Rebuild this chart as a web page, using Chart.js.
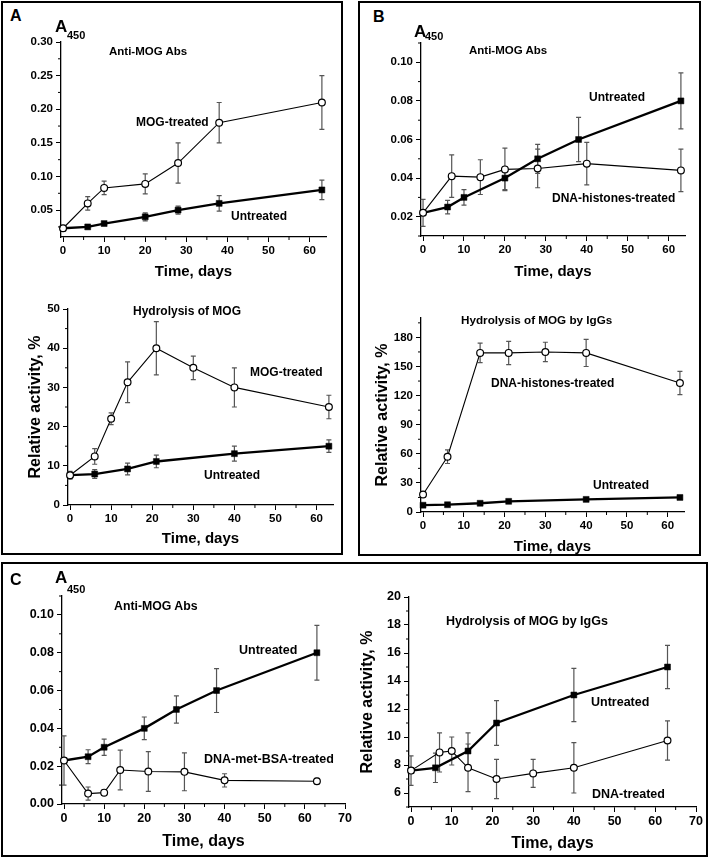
<!DOCTYPE html>
<html>
<head>
<meta charset="utf-8">
<script src="https://cdn.jsdelivr.net/npm/chart.js@4.4.1/dist/chart.umd.min.js"></script>
<style>
  body { margin: 0; background: #fff; }
  #page { position: relative; width: 709px; height: 858px; overflow: hidden;
          font-family: 'Liberation Sans', Arial, sans-serif; font-weight: bold; color: #000; }
  .box { position: absolute; border: 2px solid #000; box-sizing: border-box; }
  canvas { position: absolute; }
  .lbl { position: absolute; white-space: nowrap; line-height: 1; }
</style>
</head>
<body>
<div id="page">
  <div class="box" style="left:1px;top:1px;width:342px;height:554px"></div>
  <div class="box" style="left:358px;top:1px;width:343px;height:555px"></div>
  <div class="box" style="left:1px;top:562px;width:707px;height:295px"></div>

  <canvas id="a1" width="320" height="251" style="left:20px;top:30px"></canvas>
  <canvas id="a2" width="321" height="251" style="left:26px;top:297px"></canvas>
  <canvas id="b1" width="319" height="250" style="left:380px;top:31px"></canvas>
  <canvas id="b2" width="325" height="250" style="left:373px;top:306px"></canvas>
  <canvas id="c1" width="339" height="267" style="left:20px;top:584px"></canvas>
  <canvas id="c2" width="350" height="268" style="left:358px;top:585px"></canvas>

  <!-- panel A -->
  <div class="lbl" style="left:10px;top:8px;font-size:16px">A</div>
  <div class="lbl" style="left:55px;top:18px;font-size:17px">A</div>
  <div class="lbl" style="left:67px;top:30px;font-size:11px">450</div>
  <div class="lbl" style="left:109px;top:46px;font-size:11.5px">Anti-MOG Abs</div>
  <div class="lbl" style="left:136px;top:116px;font-size:12px">MOG-treated</div>
  <div class="lbl" style="left:231px;top:210px;font-size:12px">Untreated</div>
  <div class="lbl" style="left:133px;top:305px;font-size:12px">Hydrolysis of MOG</div>
  <div class="lbl" style="left:250px;top:366px;font-size:12px">MOG-treated</div>
  <div class="lbl" style="left:204px;top:469px;font-size:12px">Untreated</div>

  <!-- panel B -->
  <div class="lbl" style="left:373px;top:9px;font-size:16px">B</div>
  <div class="lbl" style="left:414px;top:23px;font-size:17px">A</div>
  <div class="lbl" style="left:425px;top:31px;font-size:11px">450</div>
  <div class="lbl" style="left:469px;top:45px;font-size:11.5px">Anti-MOG Abs</div>
  <div class="lbl" style="left:589px;top:91px;font-size:12px">Untreated</div>
  <div class="lbl" style="left:552px;top:192px;font-size:12px">DNA-histones-treated</div>
  <div class="lbl" style="left:461px;top:314px;font-size:11.7px">Hydrolysis of MOG by IgGs</div>
  <div class="lbl" style="left:491px;top:377px;font-size:12px">DNA-histones-treated</div>
  <div class="lbl" style="left:593px;top:479px;font-size:12px">Untreated</div>

  <!-- panel C -->
  <div class="lbl" style="left:10px;top:572px;font-size:16px">C</div>
  <div class="lbl" style="left:55px;top:569px;font-size:17px">A</div>
  <div class="lbl" style="left:67px;top:584px;font-size:11px">450</div>
  <div class="lbl" style="left:114px;top:600px;font-size:12.3px">Anti-MOG Abs</div>
  <div class="lbl" style="left:239px;top:644px;font-size:12.5px">Untreated</div>
  <div class="lbl" style="left:204px;top:753px;font-size:12.5px">DNA-met-BSA-treated</div>
  <div class="lbl" style="left:446px;top:615px;font-size:12.5px">Hydrolysis of MOG by IgGs</div>
  <div class="lbl" style="left:591px;top:696px;font-size:12.5px">Untreated</div>
  <div class="lbl" style="left:592px;top:788px;font-size:12.5px">DNA-treated</div>
</div>

<script>
// Tick labels
const xTicks60 = [0, 10, 20, 30, 40, 50, 60];
const xTicks70 = [0, 10, 20, 30, 40, 50, 60, 70];
const yTicksA1 = [0.05, 0.10, 0.15, 0.20, 0.25, 0.30];
const yTicksA2 = [0, 10, 20, 30, 40, 50];
const yTicksB1 = [0.02, 0.04, 0.06, 0.08, 0.10];
const yTicksB2 = [0, 30, 60, 90, 120, 150, 180];
const yTicksC1 = [0.00, 0.02, 0.04, 0.06, 0.08, 0.10];
const yTicksC2 = [6, 8, 10, 12, 14, 16, 18, 20];

// A, top: anti-MOG Abs (A450)
const daysA1Mog = [0, 6, 10, 20, 28, 38, 63];
const absA1Mog  = [0.023, 0.060, 0.083, 0.089, 0.120, 0.180, 0.210];
const errA1Mog  = [0, 0.010, 0.010, 0.015, 0.030, 0.030, 0.040];
const daysA1Unt = [0, 6, 10, 20, 28, 38, 63];
const absA1Unt  = [0.023, 0.025, 0.030, 0.040, 0.050, 0.060, 0.080];
const errA1Unt  = [0, 0.002, 0.002, 0.006, 0.006, 0.0115, 0.0145];

// A, bottom: hydrolysis of MOG (%)
const daysA2Mog = [0, 6, 10, 14, 21, 30, 40, 63];
const actA2Mog  = [7.6, 12.4, 22, 31.3, 40, 35, 30, 25];
const errA2Mog  = [1, 2, 1.5, 5.2, 6.8, 3, 5, 3];
const daysA2Unt = [0, 6, 14, 21, 40, 63];
const actA2Unt  = [7.6, 7.9, 9.2, 11.1, 13.1, 15];
const errA2Unt  = [0, 1.1, 1.5, 1.6, 1.9, 1.6];

// B, top: anti-MOG Abs (A450)
const daysB1Dna = [0, 7, 14, 20, 28, 40, 63];
const absB1Dna  = [0.022, 0.041, 0.0405, 0.0445, 0.045, 0.0475, 0.044];
const errB1Dna  = [0.007, 0.011, 0.009, 0.011, 0.010, 0.011, 0.011];
const daysB1Unt = [0, 6, 10, 20, 28, 38, 63];
const absB1Unt  = [0.022, 0.025, 0.030, 0.040, 0.050, 0.060, 0.080];
const errB1Unt  = [0, 0.0035, 0.004, 0.006, 0.0075, 0.0115, 0.0145];

// B, bottom: hydrolysis of MOG by IgGs (%)
const daysB2Dna = [0, 6, 14, 21, 30, 40, 63];
const actB2Dna  = [18, 57, 164, 164, 165, 164, 133];
const errB2Dna  = [3, 7, 10, 12, 10, 14, 12];
const daysB2Unt = [0, 6, 14, 21, 40, 63];
const actB2Unt  = [7, 7.5, 9, 11, 13, 15];
const errB2Unt  = [0, 1, 1, 1.5, 1.5, 2];

// C, left: anti-MOG Abs (A450)
const daysC1Dna = [0, 6, 10, 14, 21, 30, 40, 63];
const absC1Dna  = [0.023, 0.0055, 0.006, 0.018, 0.0172, 0.017, 0.0125, 0.012];
const errC1Dna  = [0.013, 0.0035, 0.0015, 0.0105, 0.0105, 0.010, 0.0035, 0.0015];
const daysC1Unt = [0, 6, 10, 20, 28, 38, 63];
const absC1Unt  = [0.023, 0.025, 0.030, 0.040, 0.050, 0.060, 0.080];
const errC1Unt  = [0, 0.0037, 0.0043, 0.006, 0.0072, 0.0116, 0.0145];

// C, right: hydrolysis of MOG by IgGs (%)
const daysC2Dna = [0, 7, 10, 14, 21, 30, 40, 63];
const actC2Dna  = [7.6, 8.9, 9.0, 7.8, 7.0, 7.4, 7.8, 9.75];
const errC2Dna  = [1.05, 1.4, 1.0, 1.7, 1.4, 1.0, 1.8, 1.4];
const daysC2Unt = [0, 6, 14, 21, 40, 63];
const actC2Unt  = [7.6, 7.8, 9.0, 11.0, 13.0, 15.0];
const errC2Unt  = [0, 1.05, 1.3, 1.6, 1.9, 1.55];

Chart.defaults.font.family = "'Liberation Sans', Arial, sans-serif";
Chart.defaults.font.weight = 'bold';
Chart.defaults.color = '#000';

// vertical error bars with caps, under the lines and markers
const errorBars = {
  id: 'errorBars',
  beforeDatasetsDraw(chart) {
    const { ctx, scales: { x, y } } = chart;
    ctx.save();
    ctx.strokeStyle = '#555';
    ctx.lineWidth = 1.2;
    chart.data.datasets.forEach(ds => {
      if (!ds.errors) return;
      ds.data.forEach((p, i) => {
        const e = ds.errors[i];
        if (!e) return;
        const px = x.getPixelForValue(p.x);
        const top = y.getPixelForValue(p.y + e);
        const bot = y.getPixelForValue(p.y - e);
        ctx.beginPath();
        ctx.moveTo(px, top); ctx.lineTo(px, bot);
        ctx.moveTo(px - 2.5, top); ctx.lineTo(px + 2.5, top);
        ctx.moveTo(px - 2.5, bot); ctx.lineTo(px + 2.5, bot);
        ctx.stroke();
      });
    });
    ctx.restore();
  }
};

// short ticks halfway between the labelled ones
const minorTicks = {
  id: 'minorTicks',
  afterDraw(chart) {
    const { ctx, chartArea, scales: { x, y } } = chart;
    ctx.save();
    ctx.strokeStyle = '#000';
    ctx.lineWidth = 1;
    [x, y].forEach(s => {
      const step = s.ticks[1].value - s.ticks[0].value;
      for (let v = s.ticks[0].value - step / 2; v <= s.max + 1e-9; v += step) {
        if (v < s.min) continue;
        const p = s.getPixelForValue(v);
        ctx.beginPath();
        if (s === x) { ctx.moveTo(p, chartArea.bottom); ctx.lineTo(p, chartArea.bottom + 3); }
        else { ctx.moveTo(chartArea.left, p); ctx.lineTo(chartArea.left - 3, p); }
        ctx.stroke();
      }
    });
    ctx.restore();
  }
};

function openSeries(days, vals, errs) {
  return {
    data: days.map((d, i) => ({ x: d, y: vals[i] })), errors: errs,
    showLine: true, borderColor: '#000', borderWidth: 1.1, clip: false,
    pointStyle: 'circle', pointRadius: 3.4, pointBackgroundColor: '#fff',
    pointBorderColor: '#000', pointBorderWidth: 1.2
  };
}

function filledSeries(days, vals, errs) {
  return {
    data: days.map((d, i) => ({ x: d, y: vals[i] })), errors: errs,
    showLine: true, borderColor: '#000', borderWidth: 2.3, clip: false,
    pointStyle: 'rect', pointRadius: 4.2, pointBackgroundColor: '#000',
    pointBorderColor: '#000', pointBorderWidth: 0.5
  };
}

function axis(o) {
  return {
    type: 'linear', position: o.position, min: o.min, max: o.max,
    afterBuildTicks: s => { s.ticks = o.ticks.map(v => ({ value: v })); },
    afterFit: s => { s[o.dim] = o.size; },
    ticks: { autoSkip: false, maxRotation: 0, padding: o.position === 'left' ? 3 : 2,
             font: { size: o.tickSize }, color: '#000', callback: o.fmt },
    grid: { drawOnChartArea: false, tickLength: 5, tickColor: '#000', tickWidth: 1 },
    border: { color: '#000', width: 1.3 },
    title: o.title ? { display: true, text: o.title, font: { size: o.titleSize }, color: '#000', padding: 0 }
                   : { display: false }
  };
}

function plot(id, o) {
  return new Chart(document.getElementById(id), {
    type: 'scatter',
    data: { datasets: o.datasets },
    options: {
      responsive: false, animation: false, devicePixelRatio: 1,
      layout: { padding: { top: 12, right: o.padRight || 14, left: 0, bottom: 0 } },
      plugins: { legend: { display: false }, tooltip: { enabled: false } },
      scales: {
        x: axis({ position: 'bottom', min: -0.5, max: o.xMax, ticks: o.xTicks, fmt: v => v,
                  dim: 'height', size: o.xH, tickSize: o.tickSize, title: 'Time, days', titleSize: o.titleSize }),
        y: axis({ position: 'left', min: o.yMin, max: o.yMax, ticks: o.yTicks, fmt: o.yFmt,
                  dim: 'width', size: o.yW, tickSize: o.tickSize, title: o.yTitle, titleSize: o.yTitleSize })
      }
    },
    plugins: [errorBars, minorTicks]
  });
}

const dec2 = v => v.toFixed(2);
const whole = v => v;

plot('a1', { xMax: 64, xTicks: xTicks60, yMin: 0.01, yMax: 0.30, yTicks: yTicksA1, yFmt: dec2,
  xH: 44, yW: 41, tickSize: 11.5, titleSize: 15,
  datasets: [openSeries(daysA1Mog, absA1Mog, errA1Mog), filledSeries(daysA1Unt, absA1Unt, errA1Unt)] });

plot('a2', { xMax: 64, xTicks: xTicks60, yMin: 0, yMax: 50, yTicks: yTicksA2, yFmt: whole,
  xH: 43, yW: 42, tickSize: 11.5, titleSize: 15, yTitle: 'Relative activity, %', yTitleSize: 16,
  datasets: [openSeries(daysA2Mog, actA2Mog, errA2Mog), filledSeries(daysA2Unt, actA2Unt, errA2Unt)] });

plot('b1', { xMax: 64, xTicks: xTicks60, yMin: 0.01, yMax: 0.11, yTicks: yTicksB1, yFmt: dec2,
  xH: 45, yW: 41, tickSize: 11.5, titleSize: 15,
  datasets: [openSeries(daysB1Dna, absB1Dna, errB1Dna), filledSeries(daysB1Unt, absB1Unt, errB1Unt)] });

plot('b2', { xMax: 64, xTicks: xTicks60, yMin: 0, yMax: 200, yTicks: yTicksB2, yFmt: whole,
  xH: 44, yW: 48, tickSize: 11.5, titleSize: 15, yTitle: 'Relative activity, %', yTitleSize: 16,
  datasets: [openSeries(daysB2Dna, actB2Dna, errB2Dna), filledSeries(daysB2Unt, actB2Unt, errB2Unt)] });

plot('c1', { xMax: 70, xTicks: xTicks70, yMin: 0, yMax: 0.11, yTicks: yTicksC1, yFmt: dec2,
  xH: 47, yW: 42, tickSize: 12.5, titleSize: 16,
  datasets: [openSeries(daysC1Dna, absC1Dna, errC1Dna), filledSeries(daysC1Unt, absC1Unt, errC1Unt)] });

plot('c2', { xMax: 70, xTicks: xTicks70, yMin: 5, yMax: 20, yTicks: yTicksC2, yFmt: whole,
  xH: 46, yW: 51, tickSize: 12.5, titleSize: 16, yTitle: 'Relative activity, %', yTitleSize: 16, padRight: 12,
  datasets: [openSeries(daysC2Dna, actC2Dna, errC2Dna), filledSeries(daysC2Unt, actC2Unt, errC2Unt)] });
</script>
</body>
</html>
